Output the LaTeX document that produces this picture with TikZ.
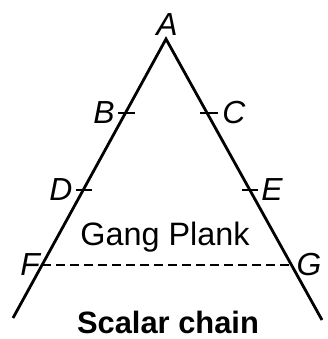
\documentclass[tikz,border=0pt]{standalone}
\usepackage{fontspec}
\setmainfont{Liberation Sans}
\begin{document}
\begin{tikzpicture}[x=1bp,y=-1bp,
  side/.style={line width=2.8bp},
  tick/.style={line width=2.6bp},
  lbl/.style={font=\fontsize{32}{34}\selectfont\itshape, inner sep=0pt},
  txt/.style={font=\fontsize{32.5}{34}\selectfont, inner sep=0pt}]
\useasboundingbox (0,0) rectangle (328,339);
\coordinate (A) at (166,39);
\coordinate (L) at (13,318);
\coordinate (R) at (322,320);
\draw[side] (L) -- (A) -- (R);
% ticks
\coordinate (B1) at (118,113); \coordinate (B2) at (135,113);
\coordinate (C1) at (200,113); \coordinate (C2) at (218,113);
\coordinate (D1) at (76,190); \coordinate (D2) at (92,190);
\coordinate (E1) at (242,190); \coordinate (E2) at (258,190);
\draw[tick] (B1) -- (B2);
\draw[tick] (C1) -- (C2);
\draw[tick] (D1) -- (D2);
\draw[tick] (E1) -- (E2);
% gang plank
\coordinate (F0) at (42,265); \coordinate (G0) at (291,265);
\draw[line width=2.6bp, dash pattern=on 9bp off 5bp] (F0) -- (G0);
% labels
\node[lbl] (a) at (167,25) {A};
\node[lbl] (b) at (104,113) {B};
\node[lbl] (c) at (234,113) {C};
\node[lbl] (d) at (61,190) {D};
\node[lbl] (e) at (272,190) {E};
\node[lbl] (f) at (30,265) {F};
\node[lbl] (g) at (309,265) {G};
\node[txt] (gp) at (165,237) {Gang Plank};
\node[txt, font=\fontsize{31}{33}\selectfont\bfseries] (sc) at (168,322) {Scalar chain};
\end{tikzpicture}
\end{document}
